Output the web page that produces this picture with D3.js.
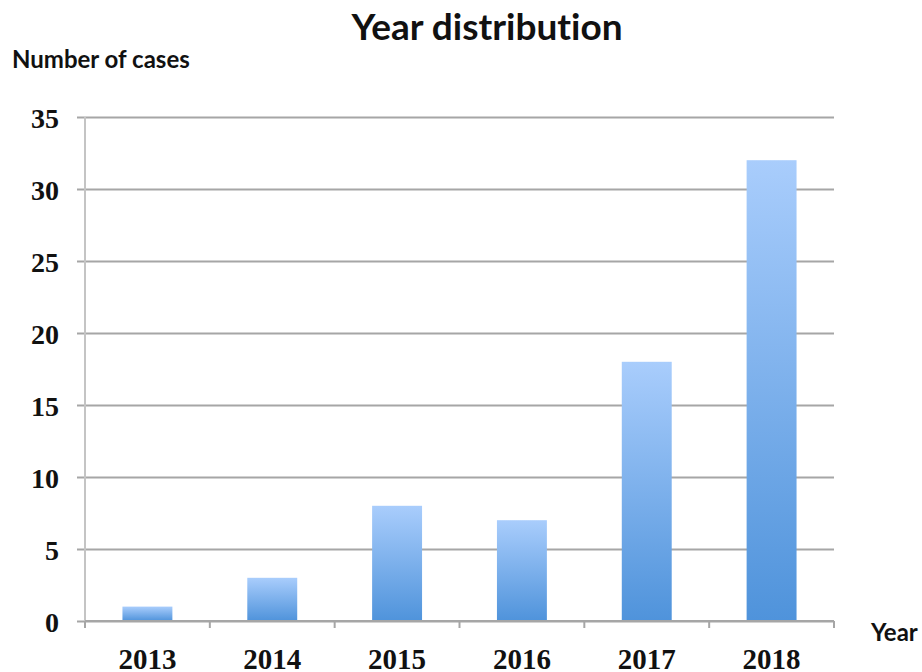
<!DOCTYPE html>
<html lang="en">
<head>
<meta charset="utf-8">
<title>Year distribution</title>
<script src="https://d3js.org/d3.v7.min.js"></script>
<style>
  body { margin: 0; background: #fff; }
  svg { display: block; }
  .tick text, .xlab { font-family: "Liberation Serif", "Times New Roman", serif; font-weight: bold; fill: #111; }
  .lbl { font-family: Lato, "Open Sans", sans-serif; font-weight: bold; fill: #111; font-variant-ligatures: none; }
</style>
</head>
<body>
<script>
// data
var years = ["2013", "2014", "2015", "2016", "2017", "2018"];
var cases = [1, 3, 8, 7, 18, 32];
var yTicks = [0, 5, 10, 15, 20, 25, 30, 35];

var w = 922, h = 672;
// plot area (window.top is reserved, so prefixed names)
var pLeft = 85, pRight = 834, pTop = 117, pBottom = 621;

var svg = d3.select("body").append("svg")
    .attr("width", w)
    .attr("height", h);

// gradient for the bars (light on top, darker at the bottom)
var grad = svg.append("defs").append("linearGradient")
    .attr("id", "barGrad")
    .attr("x1", 0).attr("y1", 0).attr("x2", 0).attr("y2", 1);
grad.append("stop").attr("offset", "0%").attr("stop-color", "#a9cdfc");
grad.append("stop").attr("offset", "100%").attr("stop-color", "#4f93db");

var x = d3.scaleBand()
    .domain(years)
    .range([pLeft, pRight])
    .paddingInner(0.6)
    .paddingOuter(0.3);

var y = d3.scaleLinear()
    .domain([0, 35])
    .range([pBottom, pTop]);

// horizontal gridlines + y labels
var yAxis = svg.append("g")
    .attr("transform", "translate(" + pLeft + ",0)")
    .call(d3.axisLeft(y).tickValues(yTicks).tickSize(-(pRight - pLeft)).tickPadding(26));
yAxis.select(".domain").remove();
yAxis.selectAll(".tick line")
    .attr("x1", -8)
    .attr("stroke", "#a6a6a6")
    .attr("stroke-width", 2);
yAxis.selectAll(".tick text")
    .attr("font-size", 28)
    .attr("dy", "0.36em");

// vertical axis line
svg.append("line")
    .attr("x1", pLeft).attr("x2", pLeft)
    .attr("y1", pTop).attr("y2", pBottom)
    .attr("stroke", "#c4c4c4")
    .attr("stroke-width", 2);

// bars
svg.selectAll("rect.bar")
    .data(cases)
    .enter()
    .append("rect")
    .attr("class", "bar")
    .attr("x", function(d, i) { return x(years[i]); })
    .attr("y", function(d) { return y(d); })
    .attr("width", x.bandwidth())
    .attr("height", function(d) { return y(0) - y(d); })
    .attr("fill", "url(#barGrad)");

// x axis with boundary ticks
var step = x.step();
var xAxis = svg.append("g")
    .attr("transform", "translate(0," + pBottom + ")");
xAxis.append("line")
    .attr("x1", pLeft).attr("x2", pRight)
    .attr("stroke", "#a6a6a6")
    .attr("stroke-width", 2);
xAxis.selectAll("line.bound")
    .data(d3.range(years.length + 1))
    .enter()
    .append("line")
    .attr("class", "bound")
    .attr("x1", function(i) { return pLeft + i * step; })
    .attr("x2", function(i) { return pLeft + i * step; })
    .attr("y1", 0).attr("y2", 7)
    .attr("stroke", "#a6a6a6")
    .attr("stroke-width", 2);
xAxis.selectAll("text.xlab")
    .data(years)
    .enter()
    .append("text")
    .attr("class", "xlab")
    .attr("x", function(d) { return x(d) + x.bandwidth() / 2; })
    .attr("y", 48)
    .attr("text-anchor", "middle")
    .attr("font-size", 29)
    .text(function(d) { return d; });

// titles
svg.append("text")
    .attr("class", "lbl")
    .attr("x", 487).attr("y", 40)
    .attr("text-anchor", "middle")
    .attr("font-size", 37)
    .text("Year distribution");

svg.append("text")
    .attr("class", "lbl")
    .attr("x", 12).attr("y", 68)
    .attr("font-size", 24)
    .text("Number of cases");

svg.append("text")
    .attr("class", "lbl")
    .attr("x", 871).attr("y", 641)
    .attr("font-size", 24)
    .text("Year");
</script>
</body>
</html>
